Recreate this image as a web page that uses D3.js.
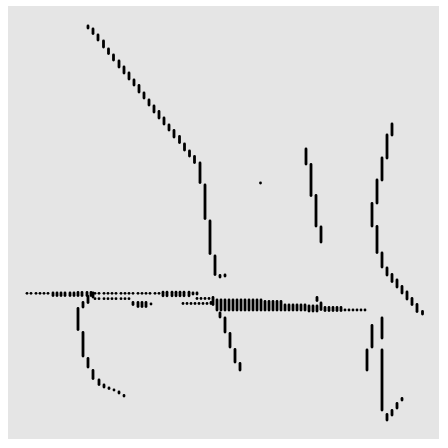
<!DOCTYPE html>
<html><head><meta charset="utf-8">
<script src="https://cdn.jsdelivr.net/npm/d3@7"></script>
<style>html,body{margin:0;padding:0;background:#fff;}</style>
</head><body>
<svg id="chart" width="448" height="448"></svg>
<script>
// Each entry: [x, yLow, yHigh]  (a single point when yLow === yHigh)
const upperDiagonal = [
  [80,411,413],[85,405.5,410],[90,399,404],[95.5,392,398],[100.5,385.5,390],[105.5,379,384],
  [111,372,378],[116,366,372],[121,360,366],[126,354,359],[131,347,353.5],[136,341,346],
  [141,334,339],[146,327,333],[151,321,327.5],[156,315,321],[161,309,314],[166,302,308.5],
  [171.5,296.5,302.5],[176.5,289,295],[181.5,283,288],[186.5,276.5,282.5],[192,256.5,276],
  [197,220.5,254],[202,185.5,218],[207,164.5,183],[212,162,163.5],[217,163,164]
];
const isolated = [[252.5,256,256]];
const middleRight = [[298,275,290],[303,243.5,274.5],[308,213,243.5],[313,197,212]];
const rightArc = [
  [384,304,315],[379,281,304],[374,259,281],[369,236,259],[364,213,235.5],[369,186.5,212.5],
  [374,172,186],[379,164,171],[384,157.5,164.5],[389,152,159],[394,146,152.5],[399,140,147],
  [404,134.5,140.5],[409,127.5,134.5],[414.5,125,127.5]
];
const lowerRight = [
  [374,101,121],[364,92,113.5],[359,69,89],[374,29,89],[379,19,24.5],[384,24,28.5],
  [389,31,35.5],[394,39,40.5]
];
const lowerMiddle = [[212,122,126],[217,107,121],[222,92,105.5],[227,77,89.5],[232,69,75.5]];
const lowerLeft = [
  [70,109.5,130.5],[75,132,136.5],[75,83,106.5],[80,136.5,142.5],[80,72,80.5],[85,142,146],
  [85,60.5,68.5],[91,54.5,59],[96,52,54],[101,50.5,51],[106,49,49],[111,46,47],[116,43,43.5]
];
const bandTopRow = [
  [19,145.7,145.7],[23,145.7,145.7],[28,145.7,145.7],[32,145.7,145.7],[36,145.7,145.7],[40,145.7,145.7],
  [45,143.5,146],[49,143.5,146],[53,143.5,146],[57,143.5,146],[62,143.5,146],[66,143.5,146],
  [70,143.5,146.5],[74,143.5,146.5],[79,143.5,146.5],[83,143.5,146.5],
  [87,145.7,145.7],[91,145.7,145.7],[96,145.7,145.7],[100,145.7,145.7],[104,145.7,145.7],[108,145.7,145.7],
  [113,145.7,145.7],[117,145.7,145.7],[121,145.7,145.7],[125,145.7,145.7],[130,145.7,145.7],[134,145.7,145.7],
  [138,145.7,145.7],[142,145.7,145.7],[147,145.7,145.7],[151,145.7,145.7],
  [155,143.2,146.8],[159,143.2,146.8],[164,143.2,146.8],[168,143.2,146.8],[172,143.2,146.8],
  [176,143.2,146.8],[181,143.2,146.8],[185,145,146],[189,145,146]
];
const bandSecondRow = [
  [87,140.3,140.3],[91,140.3,140.3],[96,140.3,140.3],[100,140.3,140.3],[104,140.3,140.3],
  [108,140.3,140.3],[113,140.3,140.3],[117,140.3,140.3],[121,140.3,140.3],
  [125,134.5,136.5],[130,132.5,136.5],[134,132.5,136.5],[138,132.5,136.5],[143,135,135],
  [175,135.5,135.5],[179,135.5,135.5],[183,135.5,135.5],[187,135.5,135.5],[191,135.5,135.5],
  [195,135.5,135.5],[199,135.5,135.5],[203,135.5,136.5],
  [189,140.5,140.5],[193,140.5,140.5],[197,140.5,140.5],[201,140.5,140.5]
];
const bandDense = [
  [205,134.5,141.5],[209,129,139],[213,129,139],[217,129,139],[221,129,139],[225,129,139],
  [229,129,139],[233,129,139],[237,129,139],[241,129,139],[245,129,139],[249,129,139],[253,129,139],
  [257,129,137.5],[261,129,137.5],[265,129,137.5],[269,129,137.5],[273,129,137.5],
  [277,129,134],[281,129,134],[285,129,134],[289,129,134],[293,129,134],[297,129,134],
  [301,128,133],[305,128,133],[309,128,133],[309,138.5,141.5],[313,129.5,136],
  [317,128.5,131.5],[321,128.5,131.5],[325,128.5,131.5],[329,128.5,131.5],[333,128.5,131.5],
  [337,129,129],[341,129,129],[345,129,129],[349,129,129],[353,129,129],[357,129,129]
];

const allSeries = [upperDiagonal, isolated, middleRight, rightArc, lowerRight, lowerMiddle,
  lowerLeft, bandTopRow, bandSecondRow, bandDense];

const panel = {left: 8, top: 6, right: 439, bottom: 439};
const svg = d3.select('#chart');
const x = d3.scaleLinear().domain([0, 431]).range([panel.left, panel.right]);
const y = d3.scaleLinear().domain([0, 433]).range([panel.bottom, panel.top]);

svg.append('rect').attr('x', panel.left).attr('y', panel.top)
  .attr('width', panel.right - panel.left).attr('height', panel.bottom - panel.top)
  .attr('fill', '#e5e5e5');

const r = 1.4;
const g = svg.append('g');
allSeries.forEach(series => {
  g.selectAll(null).data(series).enter().append('rect')
    .attr('x', d => x(d[0]) - r)
    .attr('y', d => y(d[2]) - r)
    .attr('width', 2 * r)
    .attr('height', d => (y(d[1]) - y(d[2])) + 2 * r)
    .attr('rx', r).attr('ry', r)
    .attr('fill', '#000');
});
</script>
</body></html>
